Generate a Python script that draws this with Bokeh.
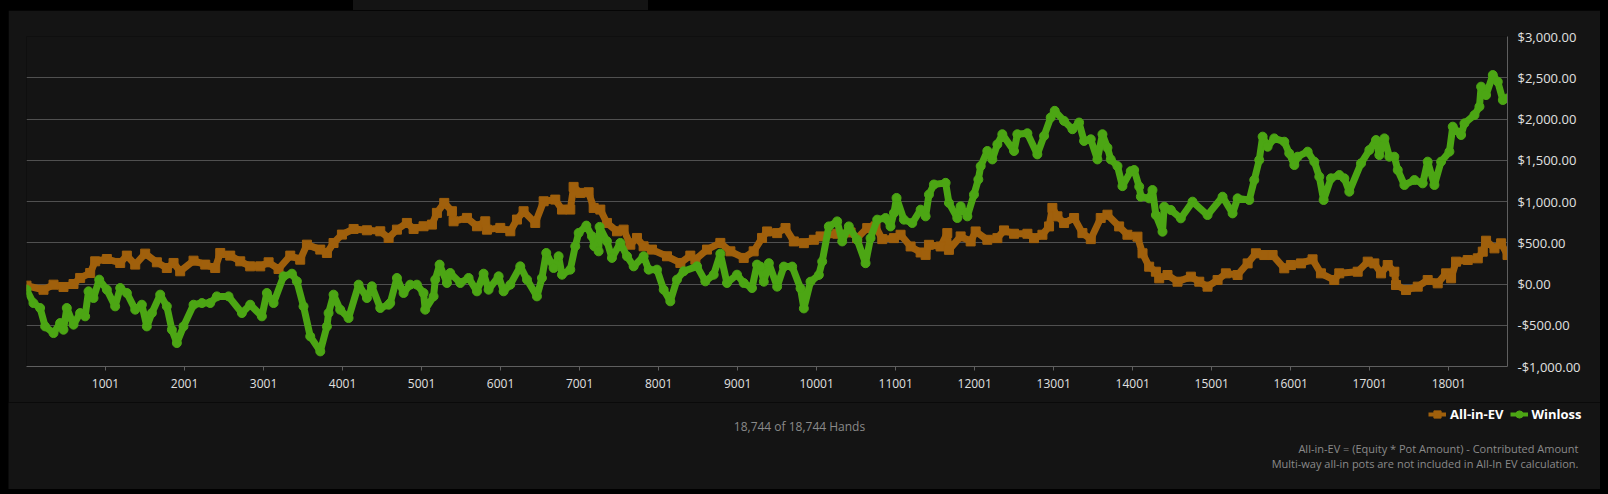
from bokeh.plotting import figure
from bokeh.models import FixedTicker, Legend, LegendItem, Label, Range1d
from bokeh.embed import file_html
from bokeh.resources import INLINE

# ---------------- data ----------------
series_names = ["All-in-EV", "Winloss"]

hands_ev = [1, 216, 343, 469, 596, 680, 807, 870, 1018, 1187,
            1271, 1377, 1503, 1651, 1777, 1862, 1946, 2115, 2263, 2389,
            2453, 2579, 2706, 2832, 2959, 3065, 3191, 3339, 3465, 3550,
            3719, 3803, 3887, 3993, 4141, 4309, 4478, 4584, 4689, 4815,
            4900, 5026, 5132, 5195, 5288, 5385, 5406, 5575, 5702, 5807,
            5828, 5997, 6124, 6208, 6292, 6440, 6546, 6693, 6778, 6883,
            6925, 7010, 7115, 7179, 7263, 7347, 7474, 7558, 7643, 7727,
            7811, 7917, 8107, 8276, 8402, 8466, 8613, 8782, 8909, 9078,
            9204, 9310, 9374, 9501, 9607, 9712, 9839, 9966, 10050, 10261,
            10430, 10514, 10641, 10746, 10831, 10979, 11063, 11190, 11317, 11380,
            11422, 11570, 11654, 11675, 11823, 11950, 12013, 12161, 12288, 12372,
            12499, 12668, 12752, 12858, 12942, 12984, 13048, 13132, 13259, 13364,
            13470, 13596, 13681, 13829, 13934, 14061, 14125, 14209, 14294, 14336,
            14441, 14568, 14737, 14843, 14948, 15075, 15180, 15328, 15455, 15560,
            15666, 15771, 15919, 16003, 16130, 16277, 16383, 16552, 16615, 16848,
            16975, 17059, 17144, 17228, 17312, 17333, 17460, 17608, 17734, 17861,
            17967, 18030, 18093, 18241, 18368, 18431, 18473, 18579, 18663, 18744]

allin_ev = [-20, -70, -8, -36, 0, 73, 133, 275, 303, 255,
            344, 235, 368, 263, 194, 255, 154, 283, 235, 194,
            376, 344, 275, 214, 214, 263, 182, 344, 295, 477,
            417, 376, 497, 599, 667, 651, 639, 558, 659, 740,
            667, 700, 720, 862, 983, 882, 760, 801, 700, 760,
            659, 680, 639, 781, 882, 740, 1003, 1023, 902, 902,
            1177, 1104, 1112, 922, 902, 740, 639, 659, 477, 558,
            457, 417, 336, 255, 344, 295, 417, 498, 396, 316,
            396, 558, 637, 617, 678, 516, 495, 536, 577, 609,
            625, 556, 678, 698, 544, 556, 597, 455, 382, 353,
            475, 455, 617, 414, 577, 516, 637, 536, 556, 650,
            609, 609, 556, 597, 698, 922, 820, 739, 800, 617,
            544, 800, 840, 698, 597, 574, 372, 210, 149, 69,
            109, 28, 89, 28, -32, 48, 129, 109, 250, 372,
            351, 351, 190, 230, 250, 299, 129, 48, 129, 149,
            271, 250, 129, 230, 149, -12, -73, -32, 48, 8,
            129, 69, 271, 291, 311, 392, 525, 432, 493, 351]

hands_wl = [1, 89, 173, 237, 343, 427, 469, 511, 596, 680,
            743, 786, 849, 921, 1018, 1123, 1187, 1271, 1377, 1461,
            1524, 1588, 1693, 1777, 1841, 1904, 1988, 2115, 2221, 2326,
            2410, 2558, 2727, 2832, 2980, 3043, 3128, 3254, 3360, 3423,
            3507, 3592, 3719, 3803, 3824, 3887, 3971, 4077, 4204, 4309,
            4372, 4478, 4584, 4604, 4689, 4773, 4857, 4942, 5026, 5047,
            5153, 5174, 5229, 5322, 5364, 5491, 5596, 5702, 5786, 5849,
            5976, 6039, 6124, 6250, 6335, 6461, 6524, 6579, 6672, 6735,
            6778, 6883, 6946, 6989, 7086, 7157, 7187, 7242, 7254, 7347,
            7410, 7516, 7601, 7685, 7811, 7875, 7980, 8065, 8149, 8233,
            8318, 8487, 8592, 8698, 8782, 8866, 8993, 9078, 9183, 9246,
            9290, 9332, 9396, 9501, 9586, 9691, 9797, 9839, 9923, 10029,
            10071, 10155, 10261, 10324, 10408, 10514, 10620, 10683, 10767, 10873,
            10936, 10979, 11012, 11105, 11211, 11317, 11380, 11422, 11485, 11633,
            11675, 11781, 11823, 11908, 11992, 12047, 12077, 12161, 12224, 12288,
            12351, 12499, 12541, 12668, 12794, 12879, 12963, 13014, 13132, 13238,
            13322, 13385, 13470, 13554, 13618, 13681, 13723, 13808, 13871, 13976,
            14019, 14083, 14104, 14209, 14251, 14294, 14378, 14399, 14484, 14610,
            14758, 14948, 15138, 15265, 15328, 15476, 15539, 15602, 15645, 15708,
            15792, 15919, 15982, 16046, 16088, 16215, 16299, 16362, 16417, 16510,
            16616, 16679, 16742, 16890, 16996, 17080, 17122, 17186, 17249, 17312,
            17355, 17439, 17566, 17671, 17734, 17819, 17903, 18009, 18051, 18157,
            18199, 18326, 18389, 18410, 18473, 18558, 18621, 18685, 18744]

winloss = [-69, -231, -291, -514, -595, -473, -554, -291, -493, -352,
           -392, -89, -170, 53, -69, -271, -49, -109, -311, -251,
           -514, -352, -129, -271, -554, -716, -514, -251, -231, -231,
           -150, -150, -352, -251, -392, -109, -231, 93, 125, 32,
           -271, -635, -817, -514, -352, -129, -311, -413, -8, -170,
           -28, -291, -251, -231, 73, -109, -8, -8, -109, -311,
           -150, 53, 235, 12, 133, 12, 73, -89, 125, -69,
           93, -89, -8, 214, 53, -150, 73, 376, 194, 336,
           113, 174, 457, 619, 708, 578, 457, 396, 692, 518,
           316, 498, 336, 214, 336, 174, 174, -69, -210, 53,
           154, 214, 32, 113, 368, 12, 113, 12, -49, 235,
           211, 28, 252, -32, 211, 211, -53, -296, 28, 110,
           272, 698, 759, 516, 698, 536, 252, 556, 780, 800,
           698, 861, 1043, 780, 739, 901, 820, 1084, 1206, 1226,
           983, 800, 942, 820, 1084, 1267, 1429, 1612, 1510, 1693,
           1815, 1612, 1815, 1827, 1571, 1795, 2018, 2099, 1977, 1876,
           1957, 1734, 1754, 1510, 1815, 1652, 1510, 1429, 1186, 1368,
           1382, 1180, 1058, 1038, 1139, 836, 634, 937, 897, 796,
           998, 836, 1058, 856, 1038, 1018, 1260, 1503, 1786, 1664,
           1765, 1725, 1584, 1442, 1543, 1604, 1483, 1301, 1018, 1281,
           1321, 1281, 1119, 1462, 1624, 1745, 1563, 1765, 1543, 1543,
           1382, 1200, 1260, 1220, 1483, 1200, 1483, 1604, 1907, 1806,
           1947, 2048, 2150, 2392, 2290, 2533, 2452, 2230, 2250]

x_ticks = [1001, 2001, 3001, 4001, 5001, 6001, 7001, 8001, 9001,
           10001, 11001, 12001, 13001, 14001, 15001, 16001, 17001, 18001]
x_tick_labels = [str(t) for t in x_ticks]
y_ticks = [-1000, -500, 0, 500, 1000, 1500, 2000, 2500, 3000]
y_tick_labels = ["-$1,000.00", "-$500.00", "$0.00", "$500.00", "$1,000.00",
                 "$1,500.00", "$2,000.00", "$2,500.00", "$3,000.00"]
hands_caption = "18,744 of 18,744 Hands"
footnote_lines = ["All-in-EV = (Equity * Pot Amount) - Contributed Amount",
                  "Multi-way all-in pots are not included in All-In EV calculation."]

# ---------------- style ----------------
FONT = "Open Sans"
BG = "#141414"
BROWN = "#a0600c"
GREEN = "#4ca614"
W = 1592

p = figure(width=W, height=392, output_backend="svg", toolbar_location=None,
           x_range=Range1d(1, 18744), y_range=Range1d(-1000, 3000),
           y_axis_location="right",
           min_border_left=18, min_border_right=93, min_border_top=26, min_border_bottom=36,
           background_fill_color=BG, border_fill_color=BG, outline_line_color=None)

p.xgrid.visible = False
p.ygrid.grid_line_color = "#505050"
p.ygrid.grid_line_width = 1

xa = p.xaxis[0]
xa.ticker = FixedTicker(ticks=x_ticks)
xa.major_label_overrides = {t: l for t, l in zip(x_ticks, x_tick_labels)}
xa.axis_line_color = "#5f5f5f"
xa.major_tick_line_color = "#5f5f5f"
xa.major_tick_out = 4
xa.major_tick_in = 0
xa.minor_tick_line_color = None
xa.major_label_text_color = "#e0e0e0"
xa.major_label_text_font = FONT
xa.major_label_text_font_size = "12px"
xa.major_label_standoff = 8

ya = p.yaxis[0]
ya.ticker = FixedTicker(ticks=y_ticks)
ya.major_label_overrides = {t: l for t, l in zip(y_ticks, y_tick_labels)}
ya.axis_line_color = "#5f5f5f"
ya.major_tick_line_color = None
ya.major_tick_out = 0
ya.major_tick_in = 0
ya.minor_tick_line_color = None
ya.major_label_text_color = "#e0e0e0"
ya.major_label_text_font = FONT
ya.major_label_text_font_size = "13px"
ya.major_label_standoff = 10

p.line(hands_ev, allin_ev, line_color=BROWN, line_width=7)
p.scatter(hands_ev, allin_ev, marker="square", size=9, fill_color=BROWN, line_color=BROWN)
p.line(hands_wl, winloss, line_color=GREEN, line_width=7)
p.scatter(hands_wl, winloss, marker="circle", size=9, fill_color=GREEN, line_color=GREEN)

# ---------------- footer (legend + notes), a separate root ----------------
p2 = figure(width=W, height=87, output_backend="svg", toolbar_location=None,
            x_range=Range1d(0, W), y_range=Range1d(0, 87),
            x_axis_location=None, y_axis_location=None, min_border=0,
            background_fill_color=BG, border_fill_color=BG, outline_line_color=None)
p2.grid.visible = False

# legend key proxies: first sample of each series (falls outside this panel's ranges)
k_ev_l = p2.line(hands_ev[:1], allin_ev[:1], line_color=BROWN, line_width=4)
k_ev_m = p2.scatter(hands_ev[:1], allin_ev[:1], marker="square", fill_color=BROWN, line_color=BROWN)
k_wl_l = p2.line(hands_wl[:1], winloss[:1], line_color=GREEN, line_width=4)
k_wl_m = p2.scatter(hands_wl[:1], winloss[:1], marker="circle", fill_color=GREEN, line_color=GREEN)

legend = Legend(items=[LegendItem(label=series_names[0], renderers=[k_ev_l, k_ev_m]),
                       LegendItem(label=series_names[1], renderers=[k_wl_l, k_wl_m])],
                orientation="horizontal", location=(1420, 65),
                background_fill_alpha=0, border_line_color=None,
                label_text_color="#ffffff", label_text_font=FONT,
                label_text_font_style="bold", label_text_font_size="13px",
                glyph_width=18, glyph_height=20, label_height=20,
                label_standoff=4, spacing=6, padding=0, margin=0)
p2.add_layout(legend)

p2.add_layout(Label(x=791, y=63, text=hands_caption, text_align="center",
                    text_baseline="middle", text_color="#8a8a8a",
                    text_font=FONT, text_font_size="12px"))
for i, line in enumerate(footnote_lines):
    p2.add_layout(Label(x=1570, y=41 - 15 * i, text=line, text_align="right",
                        text_baseline="middle", text_color="#8a8a8a",
                        text_font=FONT, text_font_size="11px"))

html = file_html([p, p2], INLINE, title="All-in-EV vs Winloss")
css = ("<style>html,body{background:#000000;margin:0;}"
       "body{padding:10px 0 0 8px;line-height:0;}"
       "body::before{content:'';position:absolute;left:353px;top:0;width:295px;"
       "height:10px;background:#141414;}</style>")
html = html.replace("</head>", css + "</head>", 1)
open("out.html", "w").write(html)
